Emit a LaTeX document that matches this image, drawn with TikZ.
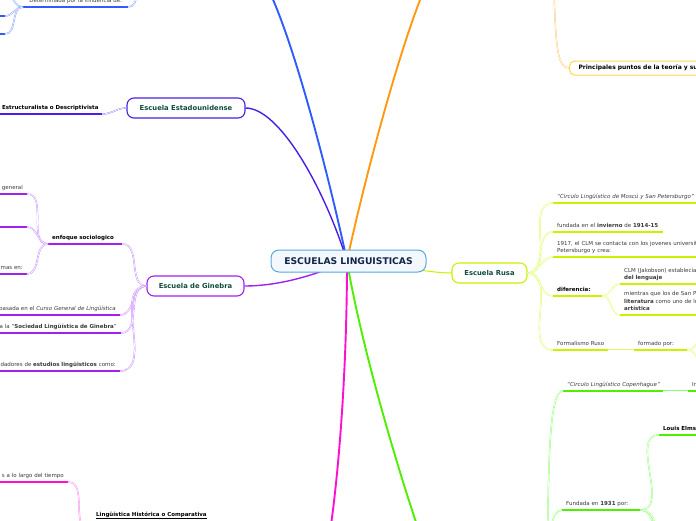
\documentclass[tikz,border=0pt]{standalone}
\usepackage{fontspec}
\setmainfont{DejaVu Sans}

\definecolor{brBlue}{HTML}{2F5BFF}
\definecolor{brBlueL}{HTML}{7FA0FF}
\definecolor{brOrange}{HTML}{FF9A10}
\definecolor{brOrangeL}{HTML}{FFC878}
\definecolor{brYellow}{HTML}{FFD84A}
\definecolor{brViolet}{HTML}{4A1EE6}
\definecolor{brVioletL}{HTML}{9A88FF}
\definecolor{brPurple}{HTML}{A020F0}
\definecolor{brPurpleL}{HTML}{C88CFF}
\definecolor{brMagenta}{HTML}{FF10D0}
\definecolor{brMagentaL}{HTML}{FF88EA}
\definecolor{brLime}{HTML}{CCF000}
\definecolor{brLimeL}{HTML}{DDFF66}
\definecolor{brGreen}{HTML}{4CF000}
\definecolor{brGreenL}{HTML}{90FF70}
\definecolor{rootLine}{HTML}{5AA7E0}
\definecolor{rootFill}{HTML}{F3F8FD}
\definecolor{rootText}{HTML}{14254A}
\definecolor{schoolText}{HTML}{0E4D3C}
\definecolor{leafText}{HTML}{3A3A3A}

\newcommand{\leaffont}{\fontsize{5.5}{7.5}\selectfont}

\begin{document}
\begin{tikzpicture}[x=1pt, y=-1pt,
  root/.style={draw=rootLine, fill=rootFill, line width=1pt, rounded corners=8pt,
    minimum width=155pt, minimum height=22pt, text=rootText,
    font=\fontsize{9.2}{11}\selectfont\bfseries},
  school/.style={fill=white, line width=1.1pt, rounded corners=7pt, minimum height=20pt,
    text=schoolText, font=\fontsize{6.8}{8}\selectfont\bfseries},
  leaf/.style={anchor=south west, align=left, inner xsep=4pt, inner ysep=1.75pt,
    text=leafText, font=\leaffont, execute at end node=\strut},
  leafl/.style={leaf, anchor=south east, align=right},
  ul/.style={line width=1.6pt},
  conn/.style={line width=0.45pt, double=white, double distance=0.6pt},
  trunk/.style={line width=1.9pt}]

\useasboundingbox (0,0) rectangle (696,520);

% ---- Schools ----
\node[school, draw=brViolet, minimum width=118pt] (usa) at (186,108) {Escuela Estadounidense};
\node[school, draw=brPurple, minimum width=97pt] (gin) at (195.5,286) {Escuela de Ginebra};
\node[school, draw=brLime, minimum width=75pt] (rus) at (489.5,273) {Escuela Rusa};
\node[school, draw=brYellow, line width=1pt, rounded corners=5pt, minimum height=14pt,
  anchor=west, align=left, text width=160pt, inner xsep=9pt, text=black,
  font=\fontsize{6}{7}\selectfont\bfseries] (pri) at (569,68) {Principales puntos de la teoría y su};

% ---- Blue branch (top left) ----
\node[leaf, align=center, text width=97pt] (det) at (23,7) {Determinada por la influencia de:};
\node[leafl, text width=12pt] (bl1) at (5,16) {};
\node[leafl, text width=12pt] (bl2) at (5,34) {};
\coordinate (bl0) at (0,-14);
\coordinate (blp) at (146,-20);

% ---- Violet branch ----
\node[leaf, text width=96pt, font=\leaffont\bfseries, text=black] (estr) at (-2,114)
  {\mbox{Estructuralista o Descriptivista}};

% ---- Purple branch ----
\node[leaf, text width=66pt, font=\leaffont\bfseries, text=black] (enf) at (48,244) {enfoque sociologico};
\node[leafl, text width=39pt] (gen) at (27,194) {general};
\node[leafl, text width=39pt] (g2) at (27,227) {};
\node[leafl, text width=39pt] (mas) at (27,274) {mas en:};
\node[leafl, text width=122pt] (bas) at (120,315) {basada en el \textit{Curso General de Lingüística}};
\node[leafl, text width=122pt] (soc) at (121,333) {a la “\textbf{Sociedad Lingüística de Ginebra}”};
\node[leafl, text width=122pt] (est) at (120,371) {dadores de \textbf{estudios lingüisticos} como:};

% ---- Magenta branch ----
\node[leafl, text width=70pt] (tie) at (68,482) {s a lo largo del tiempo};
\node[font=\leaffont\bfseries, anchor=base west, inner sep=0pt] (hist) at (96,516)
  {\underline{Lingüística Histórica o Comparativa}};
\coordinate (histw) at (90,530);

% ---- Lime branch (Escuela Rusa) ----
\node[leaf, text width=200pt, font=\leaffont\itshape] (mos) at (553,203)
  {“Circulo Lingüístico de Moscú y San Petersburgo”};
\node[leaf, text width=102pt] (fun) at (553,232) {\mbox{fundada en el \textbf{invierno} de \textbf{1914-15}}};
\node[leaf, text width=200pt] (c17) at (553,257)
  {1917, el CLM se contacta con los jovenes universitarios de San\\Petersburgo y crea:};
\node[leaf, text width=41pt, font=\leaffont\bfseries, text=black] (dif) at (553,296) {diferencia:};
\node[leaf, text width=200pt] (clm) at (620,284) {CLM (Jakobson) establecía\\\textbf{del lenguaje}};
\node[leaf, text width=200pt] (mie) at (620,315)
  {mientras que los de San Petersburgo\\\textbf{literatura} como uno de los\\\textbf{artística}};
\node[leaf, text width=47pt] (frm) at (553,350) {\mbox{Formalismo Ruso}};
\node[leaf, text width=45pt] (fpor) at (634,350) {formado por:};
\coordinate (fpa) at (708,334);
\coordinate (fpb) at (708,368);

% ---- Green branch ----
\node[leaf, text width=92pt, font=\leaffont\itshape] (cop) at (563,391) {\mbox{“Circulo Lingüístico Copenhague”}};
\node[leaf, text width=20pt] (ir) at (688,391) {Ir};
\node[leaf, text width=60pt, font=\leaffont\bfseries, text=black] (lou) at (659,435) {Louis Elms};
\node[leaf, text width=70pt] (fnd) at (562,510) {Fundada en \textbf{1931} por:};
\coordinate (cph) at (547,560);
\coordinate (fga) at (668,545);
\coordinate (fgb) at (674,575);

% ---- Orange branch ----
\coordinate (otop) at (554,-6);

% Underlines
\foreach \n/\c in {det/brBlue, bl1/brBlue, bl2/brBlue, estr/brViolet,
    enf/brPurple, gen/brPurple, g2/brPurple, mas/brPurple, bas/brPurple, soc/brPurple, est/brPurple,
    tie/brMagenta, mos/brLime, fun/brLime, c17/brLime, dif/brLime, clm/brLime, mie/brLime,
    frm/brLime, fpor/brLime, cop/brGreen, ir/brGreen, lou/brGreen, fnd/brGreen}
  \draw[ul, draw=\c] (\n.south west) -- (\n.south east);

% Connectors
\draw[conn, draw=brBlueL] (blp) to[out=180,in=0] (det.south east);
\draw[conn, draw=brBlueL] (det.south west) to[out=180,in=0] (bl0);
\foreach \n in {bl1,bl2}
  \draw[conn, draw=brBlueL] (det.south west) to[out=180,in=0] (\n.south east);

\draw[conn, draw=brVioletL] (usa.west) to[out=180,in=0] (estr.south east);

\foreach \n in {enf,bas,soc,est}
  \draw[conn, draw=brPurpleL] (gin.west) to[out=180,in=0] (\n.south east);
\foreach \n in {gen,g2,mas}
  \draw[conn, draw=brPurpleL] (enf.south west) to[out=180,in=0] (\n.south east);

\draw[conn, draw=brMagentaL] (histw) to[out=180,in=0] (tie.south east);

\foreach \n in {mos,fun,c17,dif,frm}
  \draw[conn, draw=brLimeL] (rus.east) to[out=0,in=180] (\n.south west);
\foreach \n in {clm,mie}
  \draw[conn, draw=brLimeL] (dif.south east) to[out=0,in=180] (\n.south west);
\draw[conn, draw=brLimeL] (frm.south east) -- (fpor.south west);
\foreach \n in {fpa,fpb}
  \draw[conn, draw=brLimeL] (fpor.south east) to[out=0,in=180] (\n);

\draw[conn, draw=brGreenL] (cph) .. controls (549,470) and (548,391) .. (cop.south west);
\draw[conn, draw=brGreenL] (cph) .. controls (550,530) and (552,510) .. (fnd.south west);
\draw[conn, draw=brGreenL] (cop.south east) -- (ir.south west);
\draw[conn, draw=brGreenL] (fnd.south east) to[out=0,in=180] (lou.south west);
\foreach \n in {fga,fgb}
  \draw[conn, draw=brGreenL] (fnd.south east) to[out=0,in=180] (\n);

\draw[conn, draw=brOrangeL] (otop) .. controls (556,45) and (557,68) .. (pri.west);

% ---- Main branches from the centre ----
\coordinate (hub) at (347,261);
\coordinate (tBlue) at (271,-5);
\coordinate (tOrange) at (422,-5);
\coordinate (tMag) at (331,525);
\coordinate (tGreen) at (417,525);
\draw[trunk, brBlue] (hub) .. controls (332,190) and (298,55) .. (tBlue);
\draw[trunk, brOrange] (hub) .. controls (362,190) and (396,60) .. (tOrange);
\draw[trunk, brViolet, line width=1.4pt] (hub) .. controls (325,190) and (280,108) .. (usa.east);
\draw[trunk, brPurple, line width=1.4pt] (hub) .. controls (305,280) and (270,286) .. (gin.east);
\draw[trunk, brMagenta] (hub) .. controls (347,360) and (340,460) .. (tMag);
\draw[trunk, brGreen] (hub) .. controls (360,340) and (395,460) .. (tGreen);
\draw[trunk, brLime, line width=1pt] (hub) .. controls (400,266) and (430,273) .. (rus.west);

% Centre
\node[root] (ctr) at (348.5,261) {ESCUELAS LINGUISTICAS};

\end{tikzpicture}
\end{document}
